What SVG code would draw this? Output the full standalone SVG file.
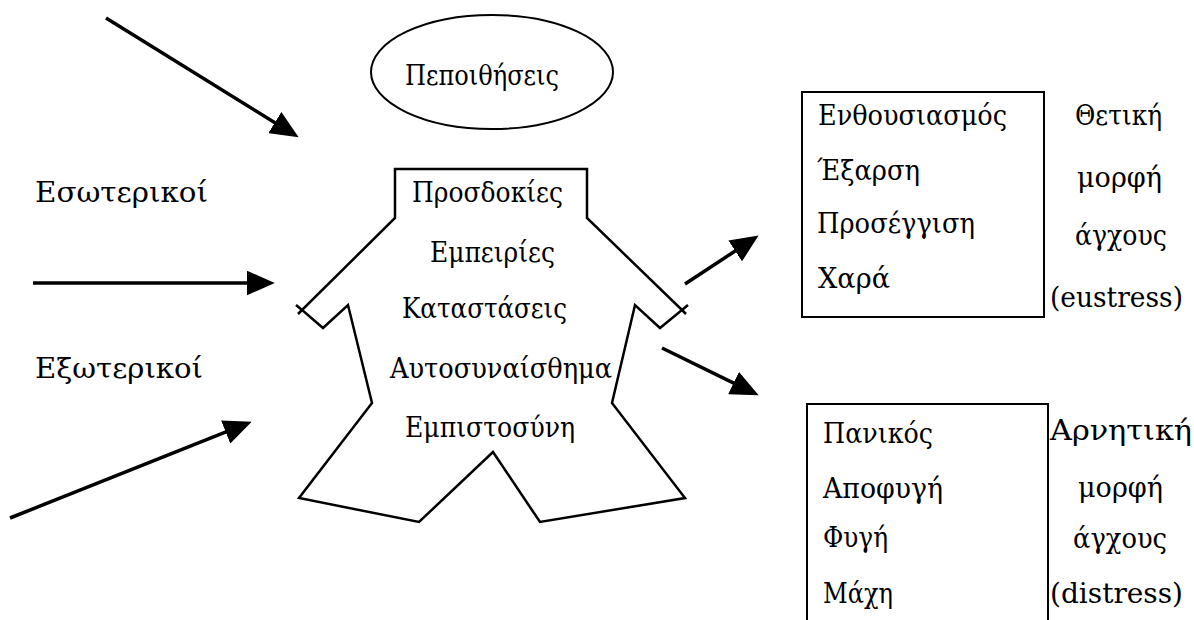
<svg xmlns="http://www.w3.org/2000/svg" width="1194" height="620" viewBox="0 0 1194 620">
<style>
text{font-family:'DejaVu Serif','Liberation Serif',serif;font-size:27.5px;fill:#000}
.arr{stroke:#000;stroke-width:3.5;fill:none;marker-end:url(#ah)}
.shape{fill:#fff;stroke:#000;stroke-width:2.5;stroke-linejoin:miter}
.box{fill:#fff;stroke:#000;stroke-width:2}
</style>
<defs>
<marker id="ah" markerUnits="userSpaceOnUse" markerWidth="28" markerHeight="25" refX="16" refY="11.5" orient="auto" viewBox="0 0 26 23">
<path d="M0,0 L26,11.5 L0,23 z" fill="#000"/>
</marker>
</defs>
<rect width="1194" height="620" fill="#fff"/>
<g id="connectors">
<line class="arr" x1="106" y1="18" x2="289.5" y2="131.7"/>
<line class="arr" x1="33" y1="283" x2="264" y2="283"/>
<line class="arr" x1="10" y1="518" x2="241.7" y2="425.7"/>
<line class="arr" x1="685" y1="284" x2="749.6" y2="241.5"/>
<line class="arr" x1="662" y1="348" x2="749" y2="390.6"/>
</g>
<g id="labels-left">
<text x="35" y="202" textLength="173" lengthAdjust="spacingAndGlyphs">Εσωτερικοί</text>
<text x="35" y="378" textLength="168" lengthAdjust="spacingAndGlyphs">Εξωτερικοί</text>
</g>
<g id="node-beliefs">
<ellipse class="box" cx="492" cy="72" rx="121" ry="57"/>
<text x="405" y="85" textLength="154" lengthAdjust="spacingAndGlyphs">Πεποιθήσεις</text>
</g>
<g id="node-person">
<polygon class="shape" points="395,169 587,169 587,218 682,310 660,328 635,305 612,403 685,498 540,522 493,452 419,522 299,498 372,403 348,305 323,328 302,310 395,218"/>
<path d="M682,310 L688,305 M682,310 L686,314 M302,310 L296,305 M302,310 L298,314" stroke="#000" stroke-width="2.5" fill="none"/>
<text x="412" y="202" textLength="151" lengthAdjust="spacingAndGlyphs">Προσδοκίες</text>
<text x="430" y="262" textLength="125" lengthAdjust="spacingAndGlyphs">Εμπειρίες</text>
<text x="402" y="318" textLength="165" lengthAdjust="spacingAndGlyphs">Καταστάσεις</text>
<text x="390" y="378" textLength="222" lengthAdjust="spacingAndGlyphs">Αυτοσυναίσθημα</text>
<text x="405" y="437" textLength="170" lengthAdjust="spacingAndGlyphs">Εμπιστοσύνη</text>
</g>
<g id="node-eustress">
<rect class="box" x="802" y="92" width="242" height="225"/>
<text x="818" y="125" textLength="189" lengthAdjust="spacingAndGlyphs">Ενθουσιασμός</text>
<text x="817" y="180" textLength="103" lengthAdjust="spacingAndGlyphs">Έξαρση</text>
<text x="817" y="233" textLength="158" lengthAdjust="spacingAndGlyphs">Προσέγγιση</text>
<text x="818" y="288" textLength="72" lengthAdjust="spacingAndGlyphs">Χαρά</text>
<text x="1075" y="125" textLength="87" lengthAdjust="spacingAndGlyphs">Θετική</text>
<text x="1077" y="187" textLength="85" lengthAdjust="spacingAndGlyphs">μορφή</text>
<text x="1075" y="245" textLength="92" lengthAdjust="spacingAndGlyphs">άγχους</text>
<text x="1050" y="307" textLength="133" lengthAdjust="spacingAndGlyphs">(eustress)</text>
</g>
<g id="node-distress">
<rect class="box" x="807" y="404" width="241" height="230"/>
<text x="823" y="443" textLength="110" lengthAdjust="spacingAndGlyphs">Πανικός</text>
<text x="823" y="498" textLength="120" lengthAdjust="spacingAndGlyphs">Αποφυγή</text>
<text x="823" y="547" textLength="65" lengthAdjust="spacingAndGlyphs">Φυγή</text>
<text x="823" y="603" textLength="70" lengthAdjust="spacingAndGlyphs">Μάχη</text>
<text x="1050" y="440" textLength="142" lengthAdjust="spacingAndGlyphs">Αρνητική</text>
<text x="1078" y="497" textLength="85" lengthAdjust="spacingAndGlyphs">μορφή</text>
<text x="1073" y="548" textLength="94" lengthAdjust="spacingAndGlyphs">άγχους</text>
<text x="1050" y="603" textLength="133" lengthAdjust="spacingAndGlyphs">(distress)</text>
</g>
</svg>
